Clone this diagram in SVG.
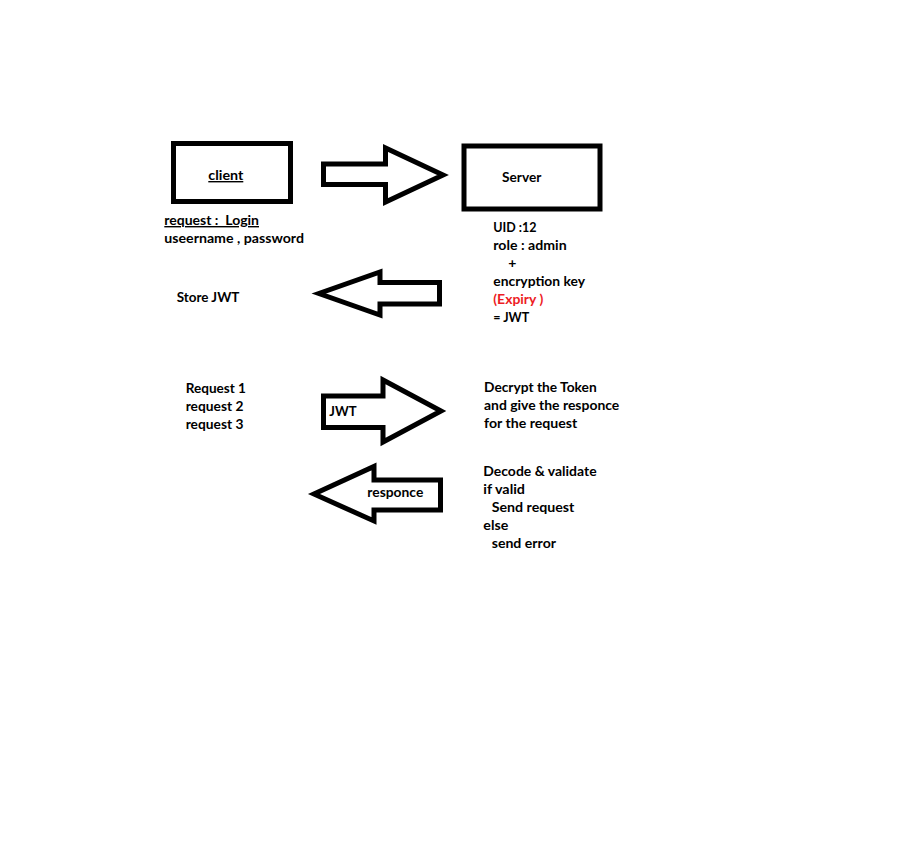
<svg xmlns="http://www.w3.org/2000/svg" width="923" height="866" viewBox="0 0 923 866">
<style>
.box{fill:none;stroke:#000;stroke-width:5}
.arr{fill:#fff;stroke:#000;stroke-width:5;stroke-linejoin:miter}
text{font-family:Lato,"Liberation Sans",sans-serif;font-weight:700;font-size:14px;fill:#000;white-space:pre}
.u{text-decoration:underline}
.red{fill:#ED1C24}
</style>
<rect width="923" height="866" fill="#fff"/>
<g id="connectors">
<polygon class="arr" points="323.5,164 385.5,164 385.5,148 443,175 385.5,202 385.5,184.5 323.5,184.5"/>
<polygon class="arr" points="439.5,282.5 380,282.5 380,272 319,293.5 380,315 380,304 439.5,304"/>
<polygon class="arr" points="323.5,396 383,396 383,380 441,411 383,442 383,427.5 323.5,427.5"/>
<polygon class="arr" points="440.5,480 374,480 374,466.5 314,494 374,521 374,510 440.5,510"/>
</g>
<g id="client">
<rect class="box" x="173.5" y="143.5" width="117" height="58"/>
<text class="u" x="208.3" y="180" textLength="35" lengthAdjust="spacingAndGlyphs">client</text>
</g>
<g id="client-notes">
<text class="u" xml:space="preserve" x="164.3" y="225" textLength="94.7" lengthAdjust="spacingAndGlyphs">request :  Login</text>
<text x="164.3" y="243" textLength="139.7" lengthAdjust="spacingAndGlyphs">useername , password</text>
</g>
<g id="server">
<rect class="box" x="464" y="146" width="136" height="63"/>
<text x="502" y="181.7" textLength="39.3" lengthAdjust="spacingAndGlyphs">Server</text>
</g>
<g id="server-notes">
<text x="493.3" y="231.7" textLength="43.3" lengthAdjust="spacingAndGlyphs">UID :12</text>
<text x="493.3" y="249.5" textLength="73.3" lengthAdjust="spacingAndGlyphs">role : admin</text>
<text x="508.3" y="267.5">+</text>
<text x="493.3" y="286" textLength="91.7" lengthAdjust="spacingAndGlyphs">encryption key</text>
<text class="red" x="493.3" y="304" textLength="50" lengthAdjust="spacingAndGlyphs">(Expiry )</text>
<text x="493.3" y="321.7" textLength="36" lengthAdjust="spacingAndGlyphs">= JWT</text>
</g>
<g id="store-jwt">
<text x="176.7" y="301.7" textLength="62.7" lengthAdjust="spacingAndGlyphs">Store JWT</text>
</g>
<g id="requests">
<text x="185.7" y="392.7" textLength="60.3" lengthAdjust="spacingAndGlyphs">Request 1</text>
<text x="185.7" y="410.7" textLength="57.7" lengthAdjust="spacingAndGlyphs">request 2</text>
<text x="185.7" y="428.7" textLength="57.7" lengthAdjust="spacingAndGlyphs">request 3</text>
</g>
<g id="jwt-label">
<text x="329.3" y="415.7" textLength="27.3" lengthAdjust="spacingAndGlyphs">JWT</text>
</g>
<g id="responce-label">
<text x="367.3" y="496.7" textLength="56" lengthAdjust="spacingAndGlyphs">responce</text>
</g>
<g id="decrypt">
<text x="484" y="391.7" textLength="112.7" lengthAdjust="spacingAndGlyphs">Decrypt the Token</text>
<text x="484" y="409.7" textLength="135.3" lengthAdjust="spacingAndGlyphs">and give the responce</text>
<text x="484" y="427.7" textLength="93.3" lengthAdjust="spacingAndGlyphs">for the request</text>
</g>
<g id="validate">
<text x="483.3" y="476" textLength="113.3" lengthAdjust="spacingAndGlyphs">Decode &amp; validate</text>
<text x="483.3" y="494" textLength="41.7" lengthAdjust="spacingAndGlyphs">if valid</text>
<text x="491.7" y="512" textLength="82.7" lengthAdjust="spacingAndGlyphs">Send request</text>
<text x="483.3" y="530" textLength="25" lengthAdjust="spacingAndGlyphs">else</text>
<text x="491.7" y="548" textLength="64.3" lengthAdjust="spacingAndGlyphs">send error</text>
</g>
</svg>
